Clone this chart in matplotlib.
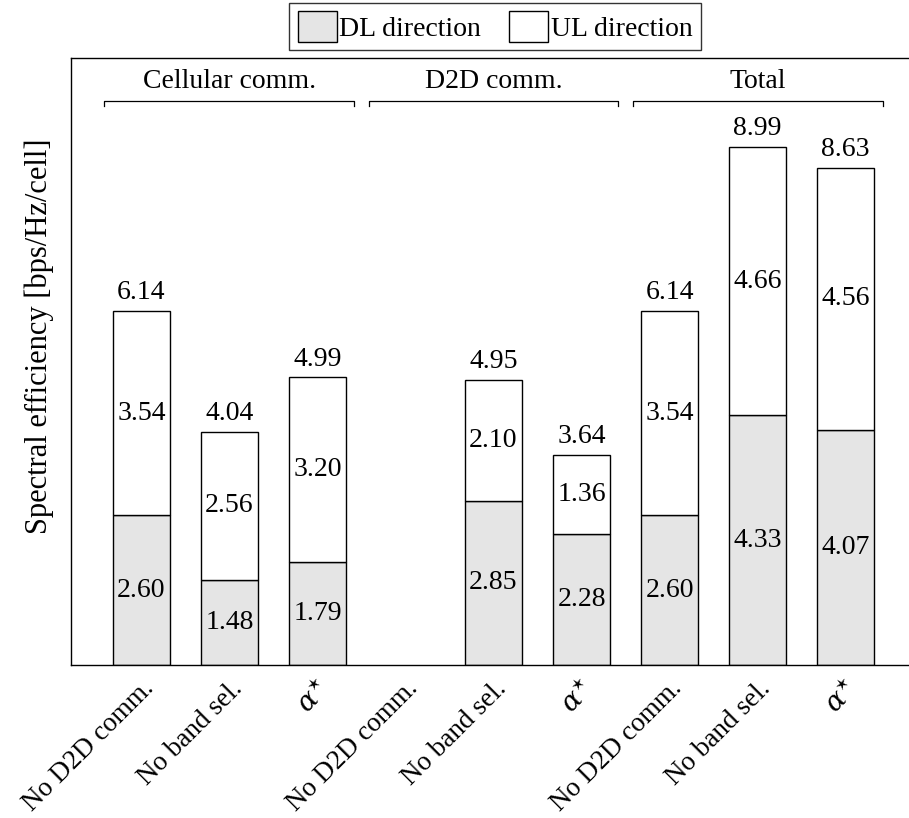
import numpy as np
import matplotlib
matplotlib.use('Agg')
import matplotlib.pyplot as plt
from matplotlib.patches import Patch

# data
categories = ['No D2D comm.', 'No band sel.', r'$\alpha^{\star}$'] * 3
groups = ['Cellular comm.', 'D2D comm.', 'Total']
dl_values = [2.60, 1.48, 1.79, np.nan, 2.85, 2.28, 2.60, 4.33, 4.07]
ul_values = [3.54, 2.56, 3.20, np.nan, 2.10, 1.36, 3.54, 4.66, 4.56]
totals = [6.14, 4.04, 4.99, np.nan, 4.95, 3.64, 6.14, 8.99, 8.63]

DL_COLOR = '#e5e5e5'
UL_COLOR = 'white'

plt.rcParams['font.family'] = ['Liberation Serif', 'DejaVu Serif']
plt.rcParams['mathtext.fontset'] = 'dejavuserif'
FS = 20

fig = plt.figure(figsize=(9.09, 8.18), dpi=100)
W, H = 909, 818
ax = fig.add_axes([71 / W, 1 - 665 / H, (916 - 71) / W, (665 - 58) / H])

x = np.arange(len(categories))
width = 0.65
dl = np.array(dl_values)
ul = np.array(ul_values)

ax.bar(x, dl, width, color=DL_COLOR, edgecolor='black', linewidth=1.0)
ax.bar(x, ul, width, bottom=dl, color=UL_COLOR, edgecolor='black', linewidth=1.0)

for i in range(len(x)):
    if np.isnan(dl[i]):
        continue
    ax.text(x[i], dl[i] / 2, f'{dl[i]:.2f}', ha='center', va='center', fontsize=FS)
    ax.text(x[i], dl[i] + ul[i] / 2, f'{ul[i]:.2f}', ha='center', va='center', fontsize=FS)
    ax.text(x[i], totals[i] + 0.1, f'{totals[i]:.2f}', ha='center', va='bottom', fontsize=FS)

ax.set_xlim(-0.8, 8.8)
ax.set_ylim(0, 10.53)
ax.set_yticks([])
ax.set_xticks(x)
ax.set_xticklabels(categories, rotation=45, ha='right', rotation_mode='anchor', fontsize=19.5)
ax.tick_params(axis='x', length=0, pad=8)
ax.spines['right'].set_visible(False)
for s in ['left', 'top', 'bottom']:
    ax.spines[s].set_linewidth(1.0)

ax.set_ylabel('Spectral efficiency [bps/Hz/cell]', fontsize=22)
ax.yaxis.set_label_coords(-0.02, 0.542)

# group brackets
for g, name in enumerate(groups):
    x0 = 3 * g - 0.42
    x1 = 3 * g + 2.42
    ax.plot([x0, x0, x1, x1], [9.70, 9.79, 9.79, 9.70], color='black', lw=0.9, clip_on=False)
    ax.text(3 * g + 1, 10.12, name, ha='center', va='center', fontsize=FS)

handles = [Patch(facecolor=DL_COLOR, edgecolor='black', label='DL direction'),
           Patch(facecolor=UL_COLOR, edgecolor='black', label='UL direction')]
leg = fig.legend(handles=handles, loc='upper center', bbox_to_anchor=(495 / W, 1 - 3 / H),
                 ncol=2, fontsize=FS, frameon=True, fancybox=False, edgecolor='black',
                 handlelength=1.4, handleheight=1.3, handletextpad=0.1, columnspacing=1.0,
                 borderpad=0.3, borderaxespad=0)
leg.get_frame().set_linewidth(1.0)

fig.savefig('out.png', dpi=100)
